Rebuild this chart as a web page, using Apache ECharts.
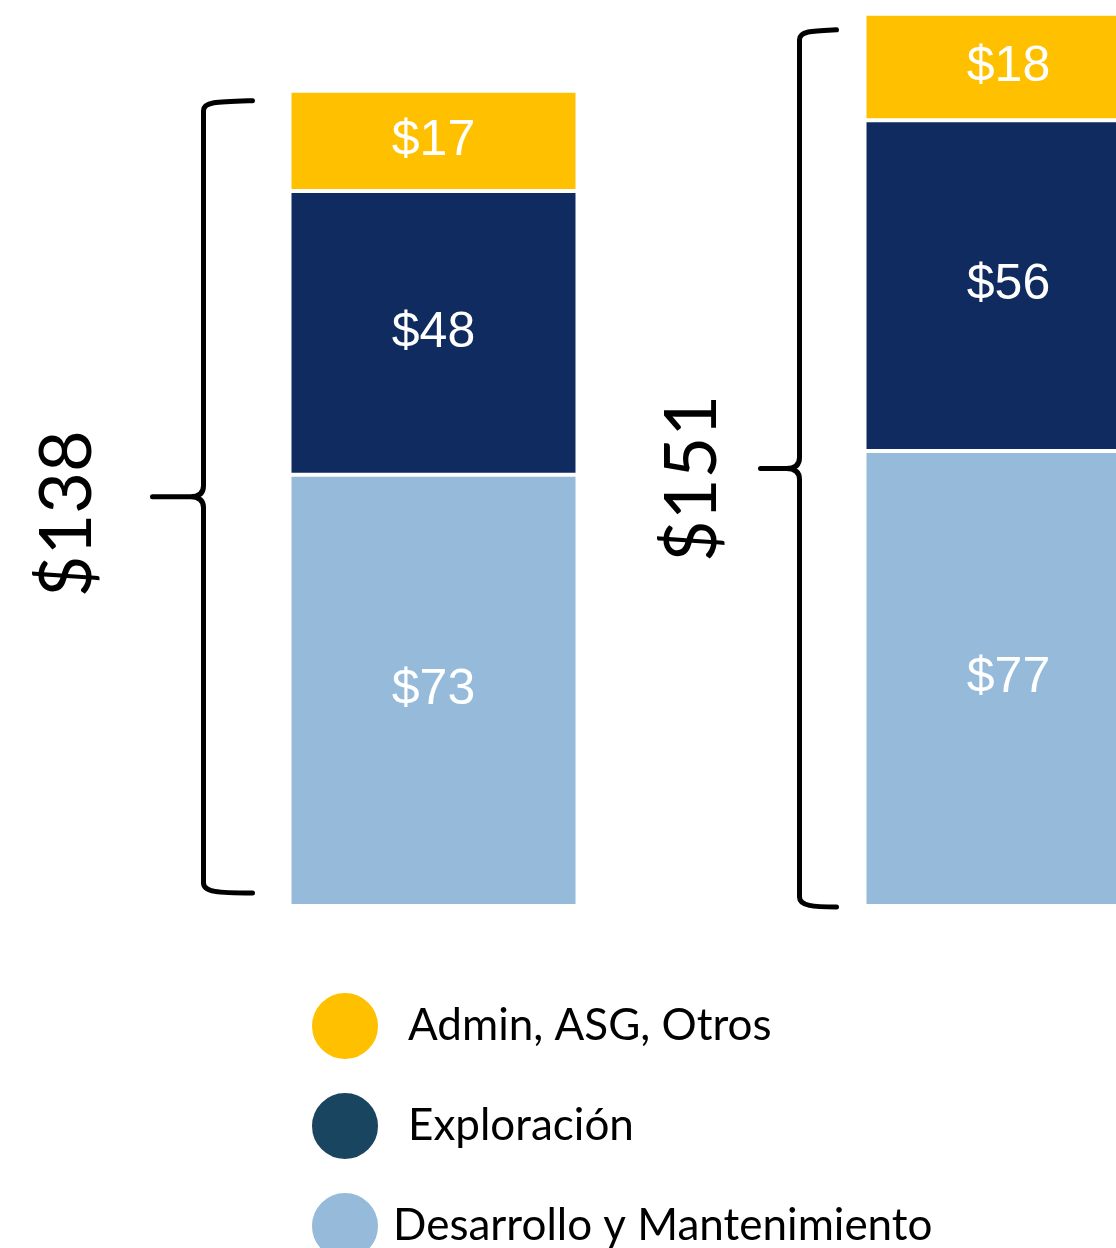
<!DOCTYPE html>
<html>
<head>
<meta charset="utf-8">
<script src="https://cdn.jsdelivr.net/npm/echarts@6/dist/echarts.min.js"></script>
<style>
html,body{margin:0;padding:0;background:#fff;}
#chart{width:1116px;height:1248px;}
</style>
</head>
<body>
<div id="chart"></div>
<script>
// 数据
var categories = ['2023', '2024'];
var desarrollo = [73, 77];
var exploracion = [48, 56];
var admin = [17, 18];
var totals = [138, 151];
var totalLabels = ['$138', '$151'];

// 各括号的位置微调 (像素)
var braceLayout = [
	{vx: -230, arm: -181, tip: -281, top: 10, bottom: -13, tx: -366, ty: 17},
	{vx: -209, arm: -172, tip: -248, top: 16, bottom: 1, tx: -316, ty: 10}
];

var myChart = echarts.init(document.getElementById('chart'));

function braceItem(params, api){
	var i = api.value(0);
	var L = braceLayout[i];
	var p0 = api.coord([i, 0]);
	var p1 = api.coord([i, api.value(1)]);
	var cx = p0[0];
	var vx = cx + L.vx, ax = cx + L.arm, tx = cx + L.tip;
	var top = p1[1] + L.top, bot = p0[1] + L.bottom;
	var mid = (top + bot) / 2;
	var d = 'M' + ax + ',' + top +
		' C' + (vx + 14) + ',' + (top + 1) + ' ' + vx + ',' + (top + 1) + ' ' + vx + ',' + (top + 10) +
		' L' + vx + ',' + (mid - 11) +
		' Q' + vx + ',' + mid + ' ' + (vx - 13) + ',' + mid +
		' L' + tx + ',' + mid +
		' M' + (vx - 13) + ',' + mid +
		' Q' + vx + ',' + mid + ' ' + vx + ',' + (mid + 11) +
		' L' + vx + ',' + (bot - 10) +
		' C' + vx + ',' + (bot - 1) + ' ' + (vx + 14) + ',' + bot + ' ' + ax + ',' + bot;
	return {
		type: 'group',
		children: [
			{
				type: 'path',
				shape: {pathData: d},
				style: {fill: 'none', stroke: '#000', lineWidth: 5, lineCap: 'round', lineJoin: 'round'}
			},
			{
				type: 'text',
				x: cx + L.tx,
				y: mid + L.ty,
				rotation: Math.PI / 2,
				style: {
					text: totalLabels[i],
					fill: '#000',
					font: '72px Lato',
					align: 'center',
					verticalAlign: 'middle'
				}
			}
		]
	};
}

var barLabel = {
	show: true,
	position: 'inside',
	color: '#fff',
	fontSize: 50,
	fontFamily: 'Liberation Sans',
	formatter: function(p){ return '$' + p.value; }
};

var option = {
	backgroundColor: '#fff',
	animation: false,
	grid: {left: 146, width: 1150, top: 2, bottom: 342, outerBoundsMode: 'none'},
	xAxis: {type: 'category', data: categories, show: false},
	yAxis: {type: 'value', min: 0, max: 153, show: false},
	legend: {
		orient: 'vertical',
		left: 310,
		top: 991,
		height: 320,
		padding: 0,
		itemWidth: 68,
		itemHeight: 68,
		itemGap: 30,
		icon: 'circle',
		selectedMode: false,
		textStyle: {fontSize: 44, fontFamily: 'Lato', color: '#000'},
		data: [
			{name: 'Admin, ASG, Otros', textStyle: {padding: [0, 0, 0, 24]}},
			{name: 'Exploración', itemStyle: {color: '#1A4560'}, textStyle: {padding: [0, 0, 0, 24]}},
			{name: 'Desarrollo y Mantenimiento', textStyle: {padding: [0, 0, 0, 9]}}
		]
	},
	series: [
		{
			name: 'Desarrollo y Mantenimiento',
			type: 'bar',
			stack: 'total',
			barWidth: 288,
			data: desarrollo,
			itemStyle: {color: '#95BADA', borderColor: '#fff', borderWidth: 2},
			label: barLabel
		},
		{
			name: 'Exploración',
			type: 'bar',
			stack: 'total',
			barWidth: 288,
			data: exploracion,
			itemStyle: {color: '#0F2B5F', borderColor: '#fff', borderWidth: 2},
			label: barLabel
		},
		{
			name: 'Admin, ASG, Otros',
			type: 'bar',
			stack: 'total',
			barWidth: 288,
			data: admin,
			itemStyle: {color: '#FFC000', borderColor: '#fff', borderWidth: 2},
			label: barLabel
		},
		{
			type: 'custom',
			renderItem: braceItem,
			data: totals.map(function(v, i){ return [i, v]; }),
			z: 10,
			silent: true
		}
	]
};

myChart.setOption(option);
</script>
</body>
</html>
